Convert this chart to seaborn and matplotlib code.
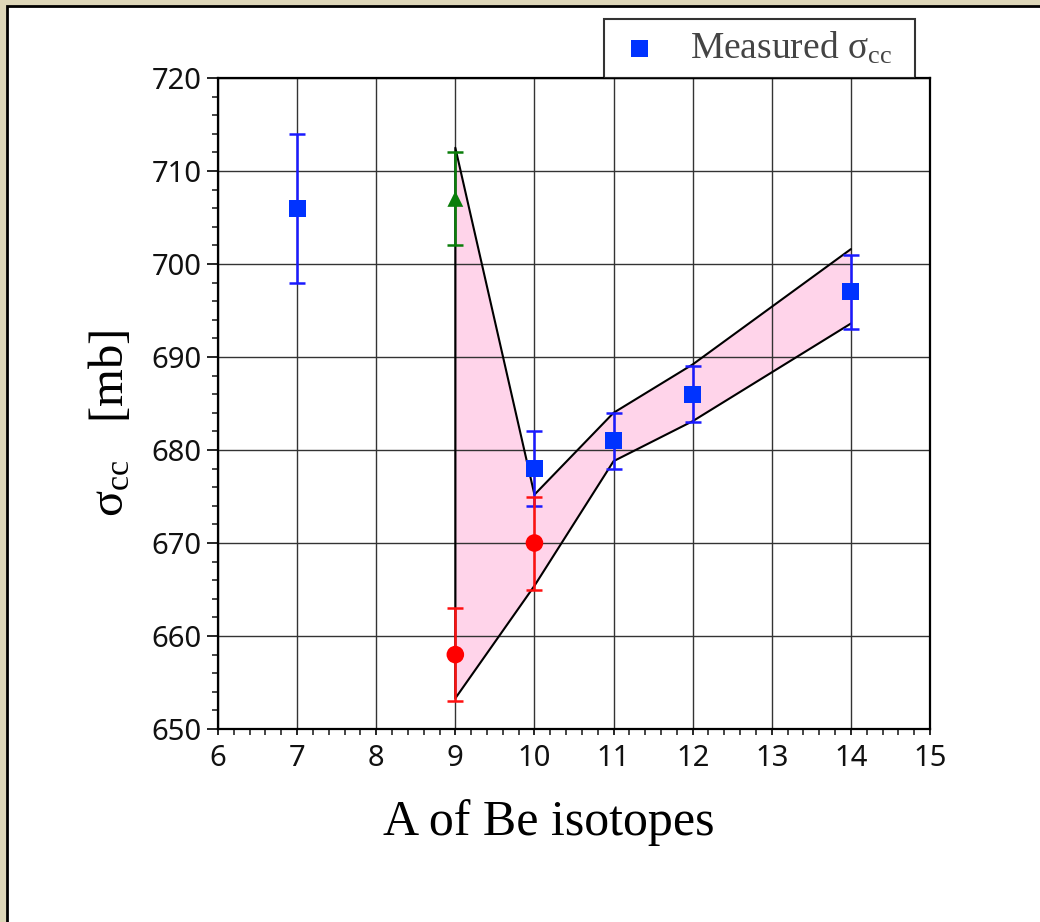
import numpy as np
import pandas as pd
import matplotlib
matplotlib.use("Agg")
import matplotlib.pyplot as plt
from matplotlib.patches import Rectangle
from matplotlib.ticker import MultipleLocator
import seaborn as sns

# ---- data ----
meas_A = [7, 10, 11, 12, 14]
meas_sigma = [706, 678, 681, 686, 697]
meas_err = [8, 4, 3, 3, 4]

green_A = [9]
green_sigma = [707]
green_err = [5]

red_A = [9, 10]
red_sigma = [658, 670]
red_err = [5, 5]

band_A = [9, 10, 11, 12, 14]
band_upper = [712.5, 675.2, 684.0, 689.2, 701.6]
band_lower = [653.3, 665.4, 678.8, 683.1, 693.6]

x_ticks = [6, 7, 8, 9, 10, 11, 12, 13, 14, 15]
y_ticks = [650, 660, 670, 680, 690, 700, 710, 720]

sns.set_theme(style="white")
plt.rcParams["font.family"] = ["Noto Sans", "DejaVu Sans"]
plt.rcParams["mathtext.fontset"] = "custom"
plt.rcParams["mathtext.rm"] = "Liberation Serif"
plt.rcParams["mathtext.it"] = "Liberation Serif"
plt.rcParams["mathtext.default"] = "regular"

fig = plt.figure(figsize=(10.4, 9.22), dpi=100)
fig.patch.set_facecolor("#ddd6b8")
panel = Rectangle((7 / 1040, -0.05), 1.1, 1.05 - 6 / 922, transform=fig.transFigure,
                  facecolor="white", edgecolor="black", linewidth=2.0, zorder=-5)
fig.add_artist(panel)

ax = fig.add_axes([218 / 1040, 1 - 729 / 922, (930 - 218) / 1040, (729 - 78) / 922])
ax.set_zorder(5)
ax.set_facecolor("white")

df_band = pd.DataFrame({"A": band_A, "upper": band_upper, "lower": band_lower})
ax.fill_between(df_band["A"], df_band["lower"], df_band["upper"], color="#ffd4ea", linewidth=0, zorder=1)
outline = pd.DataFrame({
    "A": list(band_A[::-1]) + list(band_A),
    "s": list(band_upper[::-1]) + list(band_lower),
})
sns.lineplot(data=outline, x="A", y="s", sort=False, estimator=None, color="black", lw=1.5, ax=ax, zorder=2)

ax.errorbar(meas_A, meas_sigma, yerr=meas_err, fmt="none", ecolor="#1a1aff", elinewidth=1.8,
            capsize=6, capthick=1.8, zorder=3)
ax.errorbar(green_A, green_sigma, yerr=green_err, fmt="none", ecolor="#0a7d0a", elinewidth=1.8,
            capsize=6, capthick=1.8, zorder=3)
ax.errorbar(red_A, red_sigma, yerr=red_err, fmt="none", ecolor="#ff1010", elinewidth=1.8,
            capsize=6, capthick=1.8, zorder=3)

sns.scatterplot(x=meas_A, y=meas_sigma, marker="s", s=150, color="#0033ff", edgecolor="none", ax=ax, zorder=4,
                label="Measured σ$_{cc}$ \u2009")
sns.scatterplot(x=green_A, y=green_sigma, marker="^", s=130, color="#0a7d0a", edgecolor="none", ax=ax, zorder=4)
sns.scatterplot(x=red_A, y=red_sigma, marker="o", s=160, color="#ff0000", edgecolor="none", ax=ax, zorder=4)

ax.set_xlim(6, 15)
ax.set_ylim(650, 720)
ax.set_xticks(x_ticks)
ax.set_yticks(y_ticks)
ax.xaxis.set_minor_locator(MultipleLocator(0.2))
ax.yaxis.set_minor_locator(MultipleLocator(2))
ax.grid(True, which="major", color="#333333", linewidth=1.0)
ax.set_axisbelow("line")
for sp in ax.spines.values():
    sp.set_visible(True)
    sp.set_color("black")
    sp.set_linewidth(1.6)
ax.tick_params(axis="y", which="major", direction="out", length=8, width=1.2, pad=4,
               labelsize=21, colors="black", left=True)
ax.tick_params(axis="y", which="minor", direction="out", length=4, width=1.2, left=True)
ax.tick_params(axis="x", which="major", direction="out", length=4, width=1.2, pad=7,
               labelsize=21, colors="black", bottom=True)
ax.tick_params(axis="x", which="minor", direction="out", length=4, width=1.2, bottom=True)
for lab in ax.get_xticklabels() + ax.get_yticklabels():
    lab.set_color("#111111")

ax.set_xlabel("A of Be isotopes", family="Liberation Serif", fontsize=36, color="black")
ax.xaxis.set_label_coords((549 - 218) / 712, (729 - 799) / 651)
ax.set_ylabel("σ$_{cc}$   [mb]", family="Liberation Serif", fontsize=35, color="black")
ax.yaxis.set_label_coords((133 - 218) / 712, (729 - 423) / 651)

leg = ax.legend(loc="lower right", bbox_to_anchor=(915 / 1040, 1 - 78 / 922), bbox_transform=fig.transFigure,
                borderaxespad=0, frameon=True, fancybox=False, fontsize=27, handletextpad=0.7,
                borderpad=0.3, markerscale=1.0, handlelength=1.3)
leg.get_frame().set_edgecolor("black")
leg.get_frame().set_linewidth(1.5)
for t in leg.get_texts():
    t.set_color("#444444")
    t.set_family("Liberation Serif")

fig.savefig("out.png", dpi=100, facecolor=fig.get_facecolor())
